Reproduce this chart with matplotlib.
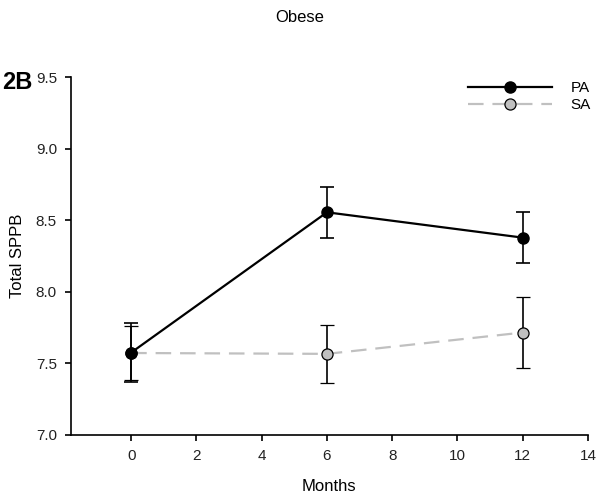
import numpy as np
import matplotlib.pyplot as plt
from matplotlib.lines import Line2D

plt.rcParams['font.family'] = ['Liberation Sans', 'DejaVu Sans']

months = [0, 6, 12]
pa_mean = [7.575, 8.555, 8.378]
pa_err = [0.205, 0.18, 0.18]
sa_mean = [7.572, 7.566, 7.715]
sa_err = [0.19, 0.205, 0.245]

fig = plt.figure(figsize=(6, 4.97), dpi=100)
ax = fig.add_axes([0.118, 0.125, 0.862, 0.72])

ax.errorbar(months, pa_mean, yerr=pa_err, color='black', lw=1.6, marker='o',
            ms=8, mfc='black', mec='black', ecolor='black', elinewidth=1.2,
            capsize=5, capthick=1.2, zorder=3)
ax.errorbar(months, sa_mean, yerr=sa_err, color='#c0c0c0', lw=1.6, ls=(0, (7, 4)),
            marker='o', ms=8, mfc='#c0c0c0', mec='black', mew=0.9,
            ecolor='black', elinewidth=1.2, capsize=5, capthick=1.2, zorder=2)

ax.set_xlim(-1.85, 14)
ax.set_ylim(7.0, 9.5)
ax.set_xticks(np.arange(0, 15, 2))
ax.set_yticks([7.0, 7.5, 8.0, 8.5, 9.0, 9.5])
ax.set_yticklabels(['7.0', '7.5', '8.0', '8.5', '9.0', '9.5'])
ax.spines['top'].set_visible(False)
ax.spines['right'].set_visible(False)
for s in ['left', 'bottom']:
    ax.spines[s].set_linewidth(1.2)
ax.tick_params(labelsize=11, length=4, width=1.2, direction='out', pad=6,
               labelcolor='#222222')
ax.set_xlabel('Months', fontsize=12, labelpad=12)
ax.set_ylabel('Total SPPB', fontsize=12, labelpad=8)

handles = [
    Line2D([], [], color='black', lw=1.6, marker='o', ms=8, mfc='black', mec='black'),
    Line2D([], [], color='#c0c0c0', lw=1.6, ls=(0, (7, 4)), marker='o', ms=8,
           mfc='#c0c0c0', mec='black', mew=0.9),
]
ax.legend(handles, ['PA', 'SA'], loc='upper right', bbox_to_anchor=(1.02, 1.01),
          frameon=False, fontsize=11, handlelength=5.5, borderaxespad=0.1,
          labelspacing=0.2, handletextpad=1.2)

fig.text(0.5, 0.965, 'Obese', ha='center', va='center', fontsize=12)
fig.text(0.004, 0.835, '2B', ha='left', va='center', fontsize=17, fontweight='bold')

fig.savefig('out.png', dpi=100)
